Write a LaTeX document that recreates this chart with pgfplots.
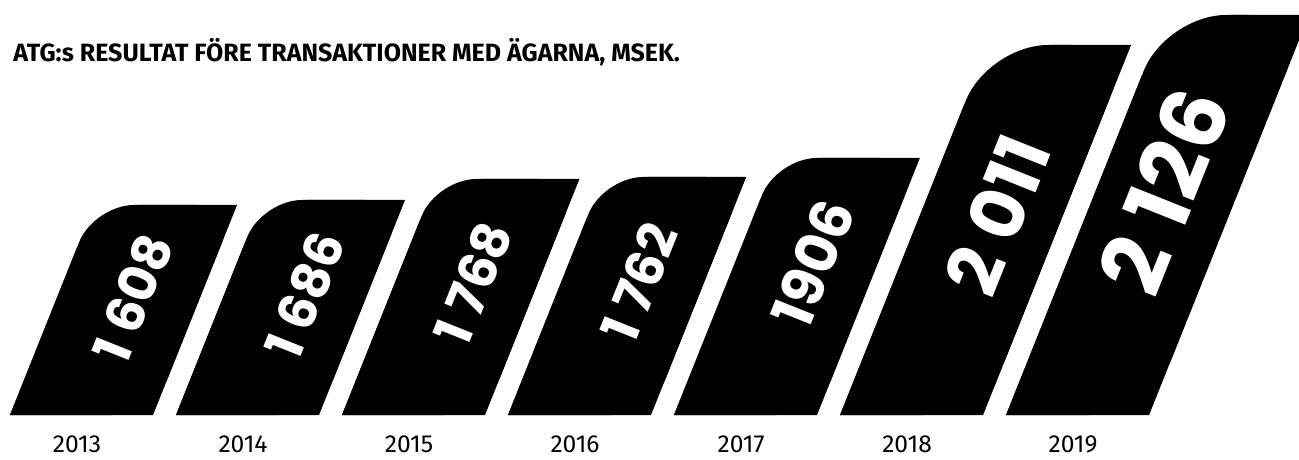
\documentclass[border=0pt]{standalone}
\usepackage{fontspec}
\setmainfont{Fira Sans}
\newfontfamily\numfont{Poppins}
\usepackage{pgfplots}
\usepackage{pgfplotstable}
\pgfplotsset{compat=1.18}
\newcommand{\gap}{\hspace{0.22em}}

% value labels: position (centre line of the bar), scale, text
\pgfplotstableread{
x y sc lab
0.31 117 1.00 {1\gap608}
1.346 120 1.00 {1\gap686}
2.36 132 1.00 {1\gap768}
3.36 133 1.00 {1\gap762}
4.407 152 1.10 {1906}
5.515 200 1.42 {2\gap011}
6.52 224 1.70 {2\gap126}
}\vals

\pgfplotstableread{
x y lab
-0.027 -29 2013
0.973 -29 2014
1.973 -29 2015
2.973 -29 2016
3.973 -29 2017
4.973 -29 2018
5.973 -29 2019
}\years

\begin{document}
\begin{tikzpicture}
\begin{axis}[
  x=83pt, y=0.5pt,
  xmin=-0.491, xmax=7.334, ymin=-44, ymax=415,
  axis line style={draw=none},
  xtick=\empty, ytick=\empty,
  clip=true,
  title={ATG:s RESULTAT FÖRE TRANSAKTIONER MED ÄGARNA, MSEK.},
  title style={at={(rel axis cs:0.01,0.8388)}, anchor=base west, inner sep=0pt,
    font=\bfseries\fontsize{12.5}{14}\selectfont},
]
% bar 2013 (h=210)
\addplot[fill=black, draw=none, rounded corners=20pt] coordinates {(-0.4307,0) (0.4307,0) (0.9367,210) (0.0753,210) (-0.4307,0)};
\addplot[fill=black, draw=none] coordinates {(-0.4307,0) (0.4307,0) (0.9367,210) (0.3463,210) (-0.0253,168.2) (-0.4307,0)};
% bar 2014 (h=215)
\addplot[fill=black, draw=none, rounded corners=20pt] coordinates {(0.5693,0) (1.4307,0) (1.9488,215) (1.0874,215) (0.5693,0)};
\addplot[fill=black, draw=none] coordinates {(0.5693,0) (1.4307,0) (1.9488,215) (1.3584,215) (0.9868,173.2) (0.5693,0)};
% bar 2015 (h=236)
\addplot[fill=black, draw=none, rounded corners=20pt] coordinates {(1.5693,0) (2.4307,0) (2.9994,236) (2.1380,236) (1.5693,0)};
\addplot[fill=black, draw=none] coordinates {(1.5693,0) (2.4307,0) (2.9994,236) (2.4090,236) (2.0374,194.2) (1.5693,0)};
% bar 2016 (h=238)
\addplot[fill=black, draw=none, rounded corners=20pt] coordinates {(2.5693,0) (3.4307,0) (4.0042,238) (3.1428,238) (2.5693,0)};
\addplot[fill=black, draw=none] coordinates {(2.5693,0) (3.4307,0) (4.0042,238) (3.4138,238) (3.0422,196.2) (2.5693,0)};
% bar 2017 (h=257)
\addplot[fill=black, draw=none, rounded corners=20pt] coordinates {(3.5693,0) (4.4307,0) (5.0500,257) (4.1886,257) (3.5693,0)};
\addplot[fill=black, draw=none] coordinates {(3.5693,0) (4.4307,0) (5.0500,257) (4.4596,257) (4.0880,215.2) (3.5693,0)};
% bar 2018 (h=370)
\addplot[fill=black, draw=none, rounded corners=30pt] coordinates {(4.5693,0) (5.4307,0) (6.3223,370) (5.4609,370) (4.5693,0)};
\addplot[fill=black, draw=none] coordinates {(4.5693,0) (5.4307,0) (6.3223,370) (5.8525,370) (5.3156,309.7) (4.5693,0)};
% bar 2019 (h=400)
\addplot[fill=black, draw=none, rounded corners=30pt] coordinates {(5.5693,0) (6.4307,0) (7.3946,400) (6.5332,400) (5.5693,0)};
\addplot[fill=black, draw=none] coordinates {(5.5693,0) (6.4307,0) (7.3946,400) (6.9248,400) (6.3879,339.7) (5.5693,0)};

% value labels
\addplot[only marks, mark=none, point meta=explicit symbolic,
  visualization depends on={\thisrow{sc} \as \sc},
  nodes near coords,
  nodes near coords style={anchor=center, rotate=68.2, text=white, scale=\sc,
    font=\numfont\bfseries\fontsize{26}{27}\selectfont, inner sep=0pt},
] table[x=x, y=y, meta=lab] {\vals};

% year labels
\addplot[only marks, mark=none, point meta=explicit symbolic,
  nodes near coords,
  nodes near coords style={anchor=center, text=black, inner sep=0pt,
    font=\fontsize{12.3}{13}\selectfont},
] table[x=x, y=y, meta=lab] {\years};
\end{axis}
\end{tikzpicture}
\end{document}
